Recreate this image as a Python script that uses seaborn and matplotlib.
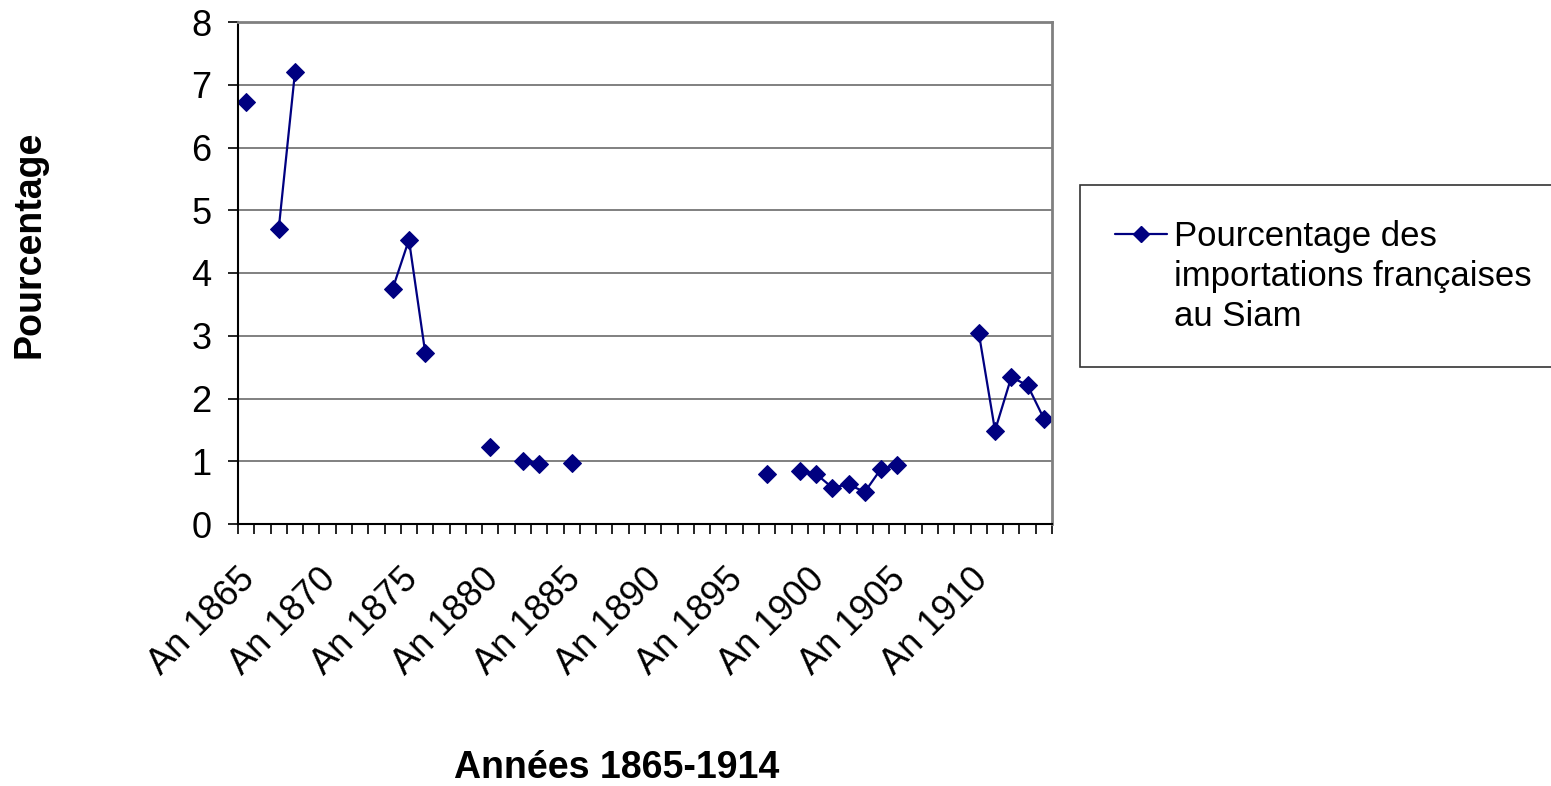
import numpy as np
import pandas as pd
import matplotlib
matplotlib.use("Agg")
import matplotlib.pyplot as plt
from matplotlib.lines import Line2D
from matplotlib.legend_handler import HandlerLine2D
from matplotlib.transforms import ScaledTranslation
import seaborn as sns

years = list(range(1865, 1915))
values = [6.72, np.nan, 4.70, 7.20, np.nan, np.nan, np.nan, np.nan, np.nan, 3.75,
          4.53, 2.73, np.nan, np.nan, np.nan, 1.22, np.nan, 1.01, 0.96, np.nan,
          0.98, np.nan, np.nan, np.nan, np.nan, np.nan, np.nan, np.nan, np.nan, np.nan,
          np.nan, np.nan, 0.80, np.nan, 0.85, 0.80, 0.58, 0.63, 0.51, 0.88,
          0.94, np.nan, np.nan, np.nan, np.nan, 3.05, 1.49, 2.34, 2.21, 1.68]
tick_labels = [f"An {y}" for y in range(1865, 1915, 5)]
series_name = "Pourcentage des\nimportations françaises\nau Siam"
x_title = "Années 1865-1914"
y_title = "Pourcentage"

sns.set_theme(style="white")
plt.rcParams['font.family'] = ['Liberation Sans', 'DejaVu Sans']
for k in ["text.color", "axes.labelcolor", "xtick.color", "ytick.color"]:
    plt.rcParams[k] = "black"

navy = "#000080"
df = pd.DataFrame({"idx": np.arange(len(years)), "year": years, "val": values})
df["seg"] = df["val"].isna().cumsum()
df = df.dropna()

fig = plt.figure(figsize=(15.51, 7.86), dpi=100)
ax = fig.add_axes([238/1551, 1-524/786, (1052-238)/1551, (524-22)/786])

sns.lineplot(data=df, x="idx", y="val", units="seg", estimator=None, ax=ax,
             color=navy, linewidth=1.6, marker="D", markersize=9,
             markeredgecolor=navy, legend=False)

ax.set_xlim(-0.5, len(years) - 0.5)
ax.set_ylim(0, 8)
ax.set_yticks(range(0, 9))
ax.yaxis.grid(True, color="#808080", linewidth=1.4)
ax.set_axisbelow(True)
ax.set_xlabel("")
ax.set_ylabel("")

# category boundary ticks
ax.set_xticks(np.arange(-0.5, len(years), 1.0))
ax.set_xticklabels([])
ax.tick_params(axis="x", which="major", direction="out", length=7, width=1.2, color="black", bottom=True)
ax.set_xticks(np.arange(0, len(years), 5), minor=True)
ax.set_xticklabels(tick_labels, minor=True, rotation=45, ha="right", va="top",
                   rotation_mode="anchor", fontsize=26)
ax.tick_params(axis="x", which="minor", length=0, pad=27, bottom=True)
for lab in ax.get_xticklabels(minor=True):
    lab.set_transform(lab.get_transform() + ScaledTranslation(-9/100, 0, fig.dpi_scale_trans))
ax.tick_params(axis="y", direction="out", length=7, width=1.2, color="black",
               labelsize=26, pad=12, left=True)

for side in ["left", "bottom"]:
    ax.spines[side].set_color("black")
    ax.spines[side].set_linewidth(1.5)
for side in ["right", "top"]:
    ax.spines[side].set_visible(True)
    ax.spines[side].set_color("#808080")
    ax.spines[side].set_linewidth(2)

fig.text(30/1551, 1-244/786, y_title, rotation=90, ha="center", va="center",
         fontsize=27, fontweight="bold")
fig.text(617/1551, 1-768/786, x_title, ha="center", va="center",
         fontsize=27, fontweight="bold")


class TopHandler(HandlerLine2D):
    def create_artists(self, legend, orig_handle, xdescent, ydescent, width,
                       height, fontsize, trans):
        arts = super().create_artists(legend, orig_handle, xdescent, ydescent,
                                      width, height, fontsize, trans)
        for a in arts:
            a.set_ydata(np.asarray(a.get_ydata()) + 31)
        return arts


handle = Line2D([], [], color=navy, linewidth=1.6, marker="D", markersize=8)
leg = fig.legend([handle], [series_name], loc="upper left",
                 bbox_to_anchor=(1080/1551, 1-185/786), borderaxespad=0,
                 fontsize=25, frameon=True, fancybox=False, edgecolor="black",
                 handlelength=1.5, handletextpad=0.2, borderpad=1.0,
                 handler_map={Line2D: TopHandler()})
leg.get_frame().set_linewidth(1.2)
for t in leg.get_texts():
    t.set_linespacing(1.27)

fig.savefig("out.png", dpi=100, facecolor="white")
